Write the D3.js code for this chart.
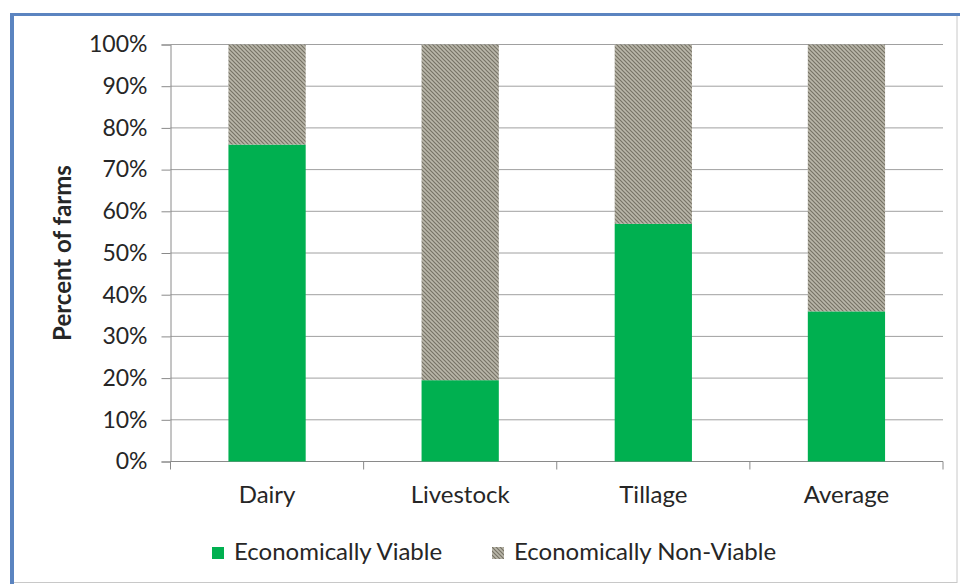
<!DOCTYPE html>
<meta charset="utf-8">
<style>
    body { margin: 0; background: #fff; }
    svg text { font-family: Lato, "Open Sans", sans-serif; fill: #262626; }
</style>

<script src="https://d3js.org/d3.v7.min.js"></script>

<svg id="chart" width="960" height="587"></svg>
<script>

// data
var categories = ["Dairy", "Livestock", "Tillage", "Average"];
var viable = [76, 19.5, 57, 36];
var nonViable = [24, 80.5, 43, 64];
var yTicks = [0, 10, 20, 30, 40, 50, 60, 70, 80, 90, 100];
var seriesNames = ["Economically Viable", "Economically Non-Viable"];

var svg = d3.select("#chart");

// frame
svg.append("rect")
    .attr("x", 12).attr("y", 14.5)
    .attr("width", 945).attr("height", 568)
    .attr("fill", "#fff")
    .attr("stroke", "#c8c8c8");
svg.append("line")
    .attr("x1", 10).attr("x2", 960).attr("y1", 14.5).attr("y2", 14.5)
    .attr("stroke", "#5b84c0").attr("stroke-width", 3);
svg.append("line")
    .attr("x1", 12).attr("x2", 12).attr("y1", 13).attr("y2", 584)
    .attr("stroke", "#5b84c0").attr("stroke-width", 4);

// hatch pattern
var defs = svg.append("defs");
var pat = defs.append("pattern")
    .attr("id", "hatch")
    .attr("patternUnits", "userSpaceOnUse")
    .attr("width", 4).attr("height", 4);
pat.append("rect").attr("width", 4).attr("height", 4).attr("fill", "#bab7aa");
pat.append("path")
    .attr("d", "M-1,-1 L5,5 M-1,3 L1,5 M3,-1 L5,1")
    .attr("stroke", "#777366").attr("stroke-width", 1.2);

var x0 = 170.5, x1 = 943, yTop = 44.5, yBot = 461.5;

var x = d3.scaleBand()
    .domain(categories)
    .range([x0, x1])
    .paddingInner(0.6)
    .paddingOuter(0.3);

var y = d3.scaleLinear().domain([0, 100]).range([yBot, yTop]);

// gridlines
svg.append("g")
    .selectAll("line")
    .data(yTicks.filter(function(d) { return d > 0; }))
    .enter().append("line")
    .attr("x1", x0).attr("x2", x1)
    .attr("y1", function(d) { return y(d); })
    .attr("y2", function(d) { return y(d); })
    .attr("stroke", "#a0a0a0");

// y axis
var yAxis = svg.append("g")
    .attr("transform", "translate(" + x0 + ",0)")
    .call(d3.axisLeft(y).tickValues(yTicks)
        .tickFormat(function(d) { return d + "%"; })
        .tickSize(9).tickPadding(14));
yAxis.select(".domain").attr("stroke", "#8a8a8a");
yAxis.selectAll(".tick line").attr("stroke", "#8a8a8a");
yAxis.selectAll("text").style("font-size", "23px").attr("fill", "#262626");

// x axis, ticks between categories
var step = x.step();
var bounds = d3.range(categories.length + 1).map(function(i) { return x0 + i * step; });
svg.append("line")
    .attr("x1", x0).attr("x2", x1).attr("y1", yBot).attr("y2", yBot)
    .attr("stroke", "#8a8a8a");
svg.append("g").selectAll("line")
    .data(bounds)
    .enter().append("line")
    .attr("x1", function(d) { return d; }).attr("x2", function(d) { return d; })
    .attr("y1", yBot).attr("y2", yBot + 8)
    .attr("stroke", "#8a8a8a");
svg.append("g").selectAll("text")
    .data(categories)
    .enter().append("text")
    .attr("x", function(d) { return x(d) + x.bandwidth() / 2; })
    .attr("y", 503)
    .attr("text-anchor", "middle")
    .style("font-size", "24px")
    .text(function(d) { return d; });

// bars
var bars = svg.append("g");
bars.selectAll(".viable")
    .data(categories)
    .enter().append("rect")
    .attr("class", "viable")
    .attr("x", function(d) { return x(d); })
    .attr("width", x.bandwidth())
    .attr("y", function(d, i) { return y(viable[i]); })
    .attr("height", function(d, i) { return y(0) - y(viable[i]); })
    .attr("fill", "#00b050");
bars.selectAll(".nonviable")
    .data(categories)
    .enter().append("rect")
    .attr("class", "nonviable")
    .attr("x", function(d) { return x(d); })
    .attr("width", x.bandwidth())
    .attr("y", function(d, i) { return y(viable[i] + nonViable[i]); })
    .attr("height", function(d, i) { return y(viable[i]) - y(viable[i] + nonViable[i]); })
    .attr("fill", "url(#hatch)");

// y title
svg.append("text")
    .attr("transform", "translate(71,253) rotate(-90)")
    .attr("text-anchor", "middle")
    .style("font-size", "24px")
    .style("font-weight", "bold")
    .text("Percent of farms");

// legend
var legendX = [212, 492];
var legend = svg.append("g").selectAll("g")
    .data(seriesNames)
    .enter().append("g")
    .attr("transform", function(d, i) { return "translate(" + legendX[i] + ",547)"; });
legend.append("rect")
    .attr("width", 12).attr("height", 12)
    .attr("fill", function(d, i) { return i === 0 ? "#00b050" : "url(#hatch)"; });
legend.append("text")
    .attr("x", 22).attr("y", 13)
    .style("font-size", "24px")
    .text(function(d) { return d; });

</script>
